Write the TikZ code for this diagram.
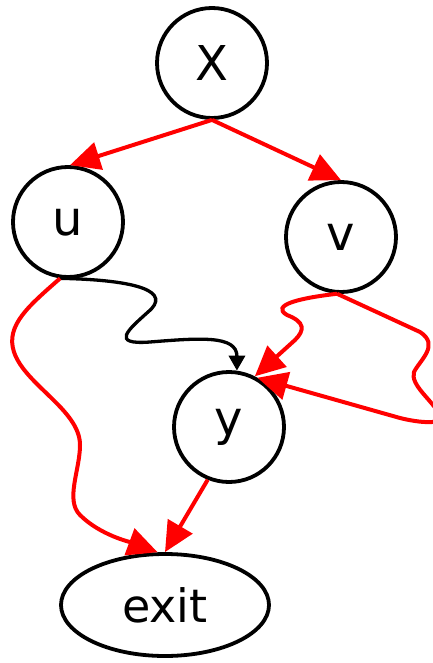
\documentclass[tikz,border=0pt]{standalone}
\usepackage{fontspec}
\setmainfont{DejaVu Sans}
\usetikzlibrary{arrows.meta,shapes.geometric}
\begin{document}
\begin{tikzpicture}[x=1pt,y=-1pt,
  vtx/.style={circle,draw=black,line width=3.8pt,minimum size=110pt,inner sep=0pt,font=\fontsize{48}{52}\selectfont},
  ext/.style={ellipse,draw=black,line width=3.8pt,minimum width=208pt,minimum height=102pt,inner sep=0pt,font=\fontsize{46}{50}\selectfont},
  redarr/.style={draw=red,line width=4pt,-{Triangle[length=30pt,width=28pt]},red},
  blkarr/.style={draw=black,line width=3.3pt,-{Triangle[length=15pt,width=16pt]}},
]
\useasboundingbox (0,0) rectangle (432,663);
\node[vtx] (X) at (212,63) {X};
\node[vtx] (u) at (68,222) {u};
\node[vtx] (v) at (341,237) {v};
\node[vtx] (y) at (229,427) {y};
\node[ext] (exit) at (165,605) {exit};

\draw[redarr] (X.south) -- (u.88);
\draw[redarr] (X.south) -- (v.north);
\draw[redarr] (y.-112) -- (exit.north);

\draw[blkarr] (u.-98) .. controls (140,280) and (172,292) .. (148,312)
  .. controls (128,330) and (110,345) .. (150,342)
  .. controls (200,338) and (237,335) .. (y.82);

\draw[redarr] (u.-98) .. controls (30,305) and (5,325) .. (14,352)
  .. controls (25,385) and (80,410) .. (80,445)
  .. controls (80,470) and (65,500) .. (80,515)
  .. controls (100,535) and (130,542) .. (exit.98);

\draw[redarr] (v.-94) .. controls (300,298) and (270,305) .. (287,315)
  .. controls (305,322) and (305,330) .. (295,340) -- (y.63);

\draw[redarr] (v.-94) -- (420,332) .. controls (440,345) and (420,360) .. (414,372)
  .. controls (410,385) and (432,400) .. (440,415)
  .. controls (445,425) and (420,423) .. (400,418) -- (y.60);
\end{tikzpicture}
\end{document}
